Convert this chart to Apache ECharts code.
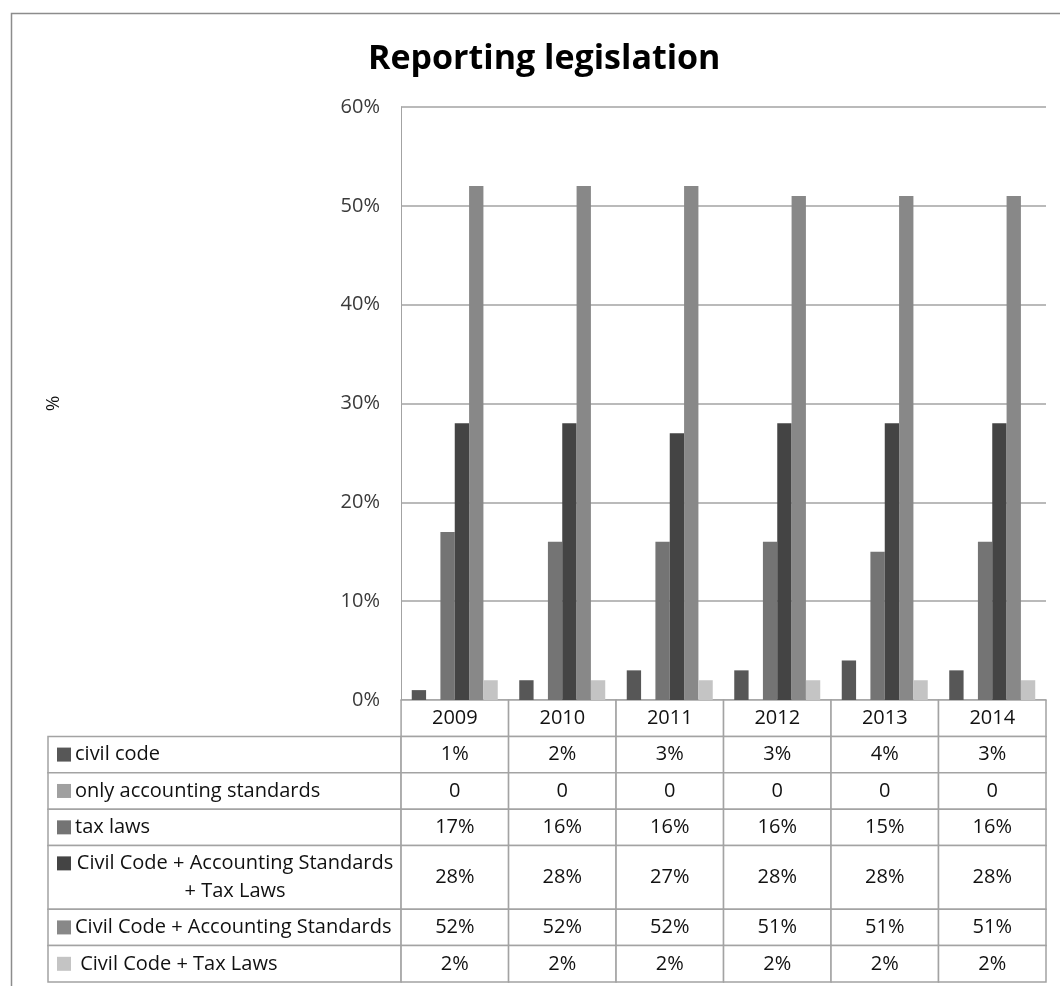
<!DOCTYPE html>
<html>
<head>
<meta charset="utf-8">
<script src="https://cdn.jsdelivr.net/npm/echarts@6/dist/echarts.min.js"></script>
<style>
html, body { margin: 0; padding: 0; background: #fff; }
#main { width: 1060px; height: 986px; }
</style>
</head>
<body>
<div id="main"></div>
<script>
// data
var years = ['2009', '2010', '2011', '2012', '2013', '2014'];
var seriesNames = ['civil code', 'only accounting standards', 'tax laws',
    'Civil Code + Accounting Standards + Tax Laws', 'Civil Code + Accounting Standards', 'Civil Code + Tax Laws'];
var rowLabels = ['civil code', 'only accounting standards', 'tax laws',
    'Civil Code + Accounting Standards\n+ Tax Laws', 'Civil Code + Accounting Standards', ' Civil Code + Tax Laws'];
var civilCode = [1, 2, 3, 3, 4, 3];
var onlyAccounting = [0, 0, 0, 0, 0, 0];
var taxLaws = [17, 16, 16, 16, 15, 16];
var ccAsTl = [28, 28, 27, 28, 28, 28];
var ccAs = [52, 52, 52, 51, 51, 51];
var ccTl = [2, 2, 2, 2, 2, 2];
var seriesValues = [civilCode, onlyAccounting, taxLaws, ccAsTl, ccAs, ccTl];
var colors = ['#575757', '#a0a0a0', '#747474', '#444444', '#888888', '#c4c4c4'];

var FONT = '"Open Sans"';
var labelUnits = 3.285;               // width of the legend column, in year-columns
var rowUnits = [1, 1, 1, 1.75, 1, 1]; // row heights of the data table
var tableHeight = 1 + rowUnits.reduce(function (a, b) { return a + b; }, 0);

function fmt(v) {
    return v === 0 ? '0' : v + '%';
}

// cells of the data table: [x0, x1, y0, y1] in table-axis units
var cells = [];
years.forEach(function (y, i) {
    cells.push({ value: [i, i + 1, 0, 1], text: y });
});
var rowTop = 1;
seriesNames.forEach(function (n, r) {
    var h = rowUnits[r];
    cells.push({ value: [-labelUnits, 0, rowTop, rowTop + h], text: rowLabels[r], swatch: colors[r] });
    seriesValues[r].forEach(function (v, i) {
        cells.push({ value: [i, i + 1, rowTop, rowTop + h], text: fmt(v) });
    });
    rowTop += h;
});

function renderCell(params, api) {
    var c = cells[params.dataIndex];
    var p0 = api.coord([api.value(0), api.value(2)]);
    var p1 = api.coord([api.value(1), api.value(3)]);
    var cy = (p0[1] + p1[1]) / 2;
    var children = [{
        type: 'rect',
        shape: { x: p0[0], y: p0[1], width: p1[0] - p0[0], height: p1[1] - p0[1] },
        style: { fill: '#fff', stroke: '#a3a3a3', lineWidth: 1.5 }
    }];
    if (c.swatch) {
        var lines = c.text.split('\n').length;
        var firstY = cy - (lines - 1) * 14;
        children.push({
            type: 'rect',
            shape: { x: p0[0] + 9, y: firstY - 7, width: 14, height: 14 },
            style: { fill: c.swatch }
        });
        var multi = lines > 1;
        children.push({
            type: 'text',
            style: {
                text: c.text,
                x: multi ? (p0[0] + 27 + p1[0] - 6) / 2 : p0[0] + 27,
                y: cy,
                align: multi ? 'center' : 'left',
                verticalAlign: 'middle',
                lineHeight: 28,
                font: '20px ' + FONT,
                fill: '#111'
            }
        });
    } else {
        children.push({
            type: 'text',
            style: {
                text: c.text,
                x: (p0[0] + p1[0]) / 2,
                y: cy,
                align: 'center',
                verticalAlign: 'middle',
                font: '20px ' + FONT,
                fill: '#111'
            }
        });
    }
    return { type: 'group', children: children };
}

var chart = echarts.init(document.getElementById('main'));

var barSeries = seriesNames.map(function (n, r) {
    return {
        name: n,
        type: 'bar',
        xAxisIndex: 0,
        yAxisIndex: 0,
        data: seriesValues[r],
        itemStyle: { color: colors[r] },
        barGap: '0%',
        barCategoryGap: '20%',
        silent: true
    };
});

chart.setOption({
    animation: false,
    textStyle: { fontFamily: 'Open Sans' },
    title: {
        text: 'Reporting legislation',
        left: 363,
        top: 37,
        textStyle: { fontSize: 34, fontWeight: 'bold', color: '#000', fontFamily: 'Open Sans' }
    },
    graphic: [{
        type: 'rect',
        left: 9,
        top: 11,
        shape: { width: 1100, height: 1100 },
        style: { fill: 'none', stroke: '#8c8c8c', lineWidth: 1.5 },
        silent: true
    }],
    grid: [
        { left: 401, right: 14, top: 107, bottom: 286 },
        { left: 48, right: 14, top: 700, bottom: 4 }
    ],
    xAxis: [{
        type: 'category',
        gridIndex: 0,
        data: years,
        axisLine: { lineStyle: { color: '#a3a3a3' } },
        axisTick: { show: false },
        axisLabel: { show: false }
    }, {
        type: 'value',
        gridIndex: 1,
        min: -labelUnits,
        max: 6,
        show: false
    }],
    yAxis: [{
        type: 'value',
        gridIndex: 0,
        min: 0,
        max: 60,
        interval: 10,
        name: '%',
        nameLocation: 'middle',
        nameGap: 338,
        nameTextStyle: { fontSize: 19, color: '#111', fontFamily: 'Open Sans' },
        axisLine: { show: true, lineStyle: { color: '#a3a3a3' } },
        axisTick: { show: false },
        axisLabel: { formatter: '{value}%', fontSize: 20, color: '#3a3a3a', margin: 21 },
        splitLine: { lineStyle: { color: '#a3a3a3', width: 1.5 } }
    }, {
        type: 'value',
        gridIndex: 1,
        min: 0,
        max: tableHeight,
        inverse: true,
        show: false
    }],
    series: barSeries.concat([{
        type: 'custom',
        xAxisIndex: 1,
        yAxisIndex: 1,
        renderItem: renderCell,
        data: cells.map(function (c) { return c.value; }),
        silent: true
    }])
});
</script>
</body>
</html>
